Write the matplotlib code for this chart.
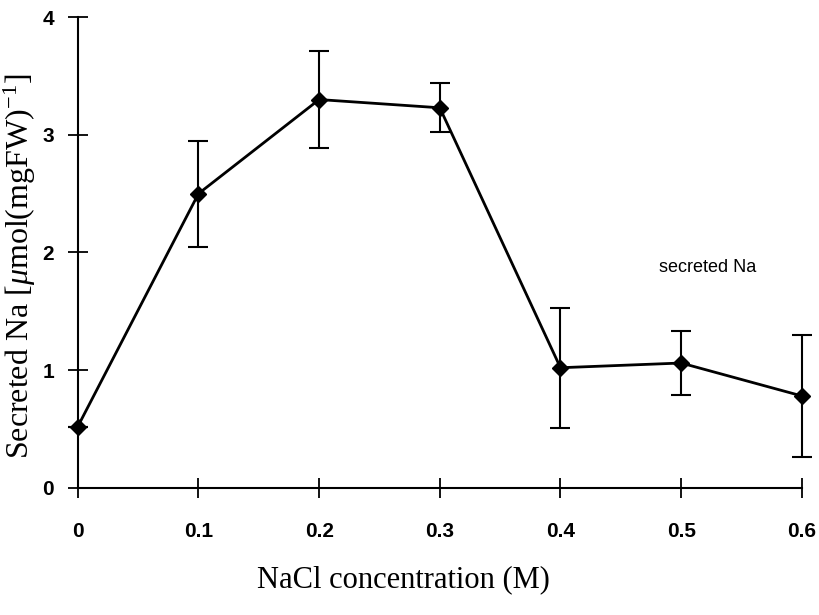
import numpy as np
import matplotlib.pyplot as plt

nacl = [0, 0.1, 0.2, 0.3, 0.4, 0.5, 0.6]
na = [0.52, 2.5, 3.3, 3.23, 1.02, 1.06, 0.78]
err = [0.0, 0.45, 0.41, 0.21, 0.51, 0.27, 0.52]
xticks = [0, 0.1, 0.2, 0.3, 0.4, 0.5, 0.6]
xticklabels = ['0', '0.1', '0.2', '0.3', '0.4', '0.5', '0.6']
yticks = [0, 1, 2, 3, 4]

plt.rcParams['mathtext.fontset'] = 'custom'
plt.rcParams['mathtext.rm'] = 'Liberation Serif'
plt.rcParams['mathtext.it'] = 'Liberation Serif:italic'

fig = plt.figure(figsize=(8.19, 6.15), dpi=100)
ax = fig.add_axes([0.095, 0.207, 0.884, 0.765])

ax.errorbar(nacl, na, yerr=err, color='black', lw=2, marker='D', ms=8,
            capsize=7, capthick=1.5, elinewidth=1.5, clip_on=False)

ax.set_xlim(0, 0.6)
ax.set_ylim(0, 4)
ax.set_xticks(xticks)
ax.set_xticklabels(xticklabels)
ax.set_yticks(yticks)
for s in ['top', 'right']:
    ax.spines[s].set_visible(False)
for s in ['left', 'bottom']:
    ax.spines[s].set_linewidth(1.5)
ax.tick_params(direction='inout', length=14, width=1.3)
ax.tick_params(axis='x', pad=18)
ax.tick_params(axis='y', pad=10)
for lab in ax.get_xticklabels() + ax.get_yticklabels():
    lab.set_fontfamily('Liberation Sans')
    lab.set_fontweight('bold')
    lab.set_fontsize(15)

ax.text(0.482, 1.83, 'secreted Na', fontsize=13, family='Liberation Sans')

ax.set_xlabel('NaCl concentration (M)', family='Liberation Serif', fontsize=22)
ax.xaxis.set_label_coords(0.45, -0.165)
ax.set_ylabel(r'Secreted Na [$\mathit{\mu}$mol(mgFW)$^{-1}$]', family='Liberation Serif',
              fontsize=23)
ax.yaxis.set_label_coords(-0.055, 0.47)

fig.savefig('out.png')
